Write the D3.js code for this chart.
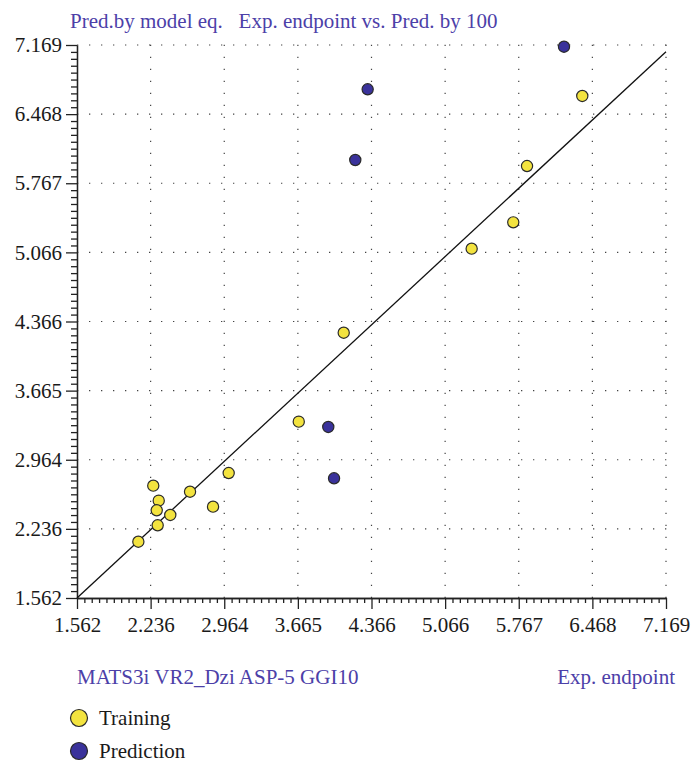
<!DOCTYPE html>
<html>
<head>
<meta charset="utf-8">
<script src="https://cdn.jsdelivr.net/npm/d3@7"></script>
<style>
  html, body { margin: 0; padding: 0; background: #fff; }
  svg { display: block; }
  text { font-family: "Liberation Serif", "DejaVu Serif", serif; }
</style>
</head>
<body>
<svg id="chart" width="691" height="763"></svg>
<script>
// ---- data ----
const axisMin = 1.562;
const axisMax = 7.169;
const tickLabels = ["1.562", "2.236", "2.964", "3.665", "4.366", "5.066", "5.767", "6.468", "7.169"];

const trainingX = [2.146, 2.288, 2.340, 2.321, 2.330, 2.450, 2.638, 2.857, 3.006, 3.673, 4.101, 5.319, 5.715, 5.846, 6.372];
const trainingY = [2.133, 2.701, 2.549, 2.451, 2.299, 2.404, 2.640, 2.488, 2.829, 3.350, 4.252, 5.104, 5.371, 5.942, 6.652];

const predictionX = [3.954, 4.009, 4.211, 4.329, 6.198];
const predictionY = [3.296, 2.776, 6.003, 6.720, 7.152];

const fitLineX = [1.562, 7.169];
const fitLineY = [1.562, 7.101];

const titleText = "Pred.by model eq.   Exp. endpoint vs. Pred. by 100";
const descriptorText = "MATS3i VR2_Dzi ASP-5 GGI10";
const xAxisTitle = "Exp. endpoint";
const seriesNames = ["Training", "Prediction"];
const seriesColors = ["#f3e33f", "#3a329b"];

// ---- layout ----
(function () {
const svg = d3.select("#chart");
const pLeft = 77, pRight = 666, pTop = 45, pBottom = 598;
const labelColor = "#4c40a8";
const fs = 21;

const x = d3.scaleLinear().domain([axisMin, axisMax]).range([pLeft, pRight]);
const y = d3.scaleLinear().domain([axisMin, axisMax]).range([pBottom, pTop]);

const nMajor = tickLabels.length - 1;
const majorVals = d3.range(tickLabels.length).map(i => axisMin + i * (axisMax - axisMin) / nMajor);
const minorVals = d3.range(nMajor * 10 + 1).map(i => axisMin + i * (axisMax - axisMin) / (nMajor * 10))
  .filter((v, i) => i % 10 !== 0);

// grid (dotted)
const grid = svg.append("g").attr("stroke", "#444").attr("stroke-width", 1.2)
  .attr("stroke-dasharray", "1.3,10.7");
majorVals.slice(1).forEach(v => {
  grid.append("line").attr("x1", x(v)).attr("x2", x(v)).attr("y1", pBottom).attr("y2", pTop - 1);
  grid.append("line").attr("x1", pLeft).attr("x2", pRight + 1).attr("y1", y(v)).attr("y2", y(v));
});

// axes
const fmt = (d, i) => tickLabels[i];
const xAxis = svg.append("g").attr("transform", `translate(0,${pBottom})`)
  .call(d3.axisBottom(x).tickValues(majorVals).tickFormat(fmt).tickSize(11).tickSizeOuter(0).tickPadding(8));
const xMinor = svg.append("g").attr("transform", `translate(0,${pBottom})`)
  .call(d3.axisBottom(x).tickValues(minorVals).tickFormat("").tickSize(5).tickSizeOuter(0));
const yAxis = svg.append("g").attr("transform", `translate(${pLeft},0)`)
  .call(d3.axisLeft(y).tickValues(majorVals).tickFormat(fmt).tickSize(11).tickSizeOuter(0).tickPadding(4));
const yMinor = svg.append("g").attr("transform", `translate(${pLeft},0)`)
  .call(d3.axisLeft(y).tickValues(minorVals).tickFormat("").tickSize(6).tickSizeOuter(0));

[xAxis, xMinor, yAxis, yMinor].forEach(g => {
  g.selectAll("path,line").attr("stroke", "#222").attr("stroke-width", 1.3);
  g.selectAll("text").attr("font-size", fs).attr("fill", "#1a1a1a")
    .attr("font-family", "'Liberation Serif', serif");
});

// fit line
svg.append("line")
  .attr("x1", x(fitLineX[0])).attr("y1", y(fitLineY[0]))
  .attr("x2", x(fitLineX[1])).attr("y2", y(fitLineY[1]))
  .attr("stroke", "#111").attr("stroke-width", 1.3);

// points
function drawPoints(xs, ys, color) {
  svg.append("g").selectAll("circle").data(xs.map((v, i) => [v, ys[i]])).join("circle")
    .attr("cx", d => x(d[0])).attr("cy", d => y(d[1])).attr("r", 5.6)
    .attr("fill", color).attr("stroke", "#2a2a2a").attr("stroke-width", 1.2);
}
drawPoints(trainingX, trainingY, seriesColors[0]);
drawPoints(predictionX, predictionY, seriesColors[1]);

// titles
svg.append("text").attr("x", 70).attr("y", 28).attr("font-size", fs).attr("fill", labelColor)
  .attr("xml:space", "preserve").style("white-space", "pre").text(titleText);
svg.append("text").attr("x", 77).attr("y", 684).attr("font-size", fs).attr("fill", labelColor).text(descriptorText);
svg.append("text").attr("x", 675).attr("y", 684).attr("font-size", fs).attr("fill", labelColor)
  .attr("text-anchor", "end").text(xAxisTitle);

// legend
const legend = svg.append("g");
seriesNames.forEach((name, i) => {
  const cy = 718 + i * 33;
  legend.append("circle").attr("cx", 79).attr("cy", cy).attr("r", 8.5)
    .attr("fill", seriesColors[i]).attr("stroke", "#2a2a2a").attr("stroke-width", 1.2);
  legend.append("text").attr("x", 99).attr("y", cy + 7).attr("font-size", fs).attr("fill", "#1a1a1a").text(name);
});
})();
</script>
</body>
</html>
